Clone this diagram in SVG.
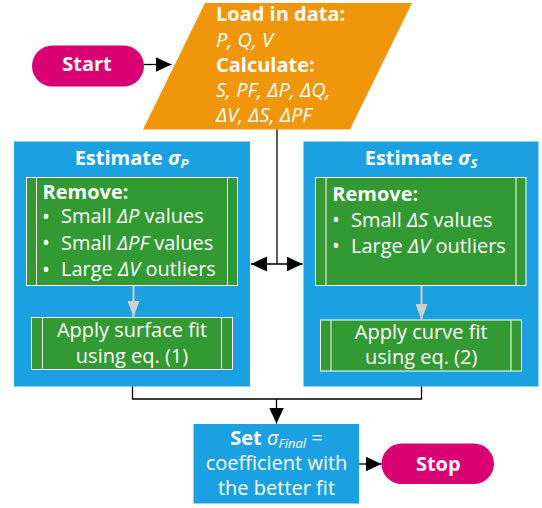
<svg xmlns="http://www.w3.org/2000/svg" width="542" height="508" viewBox="0 0 542 508">
<defs>
<style>
text{font-family:"Open Sans","Noto Sans","Liberation Sans",sans-serif;fill:#fff}
.t{font-size:20px}
.b{font-weight:bold}
.i{font-style:italic}
.m{text-anchor:middle}
.sub{font-size:13px;font-style:italic}
.bul{font-size:21px}
.pill{fill:#D80073}
.blue{fill:#1BA1E2}
.green{fill:#339933;stroke:#fff;stroke-width:1}
.gl{stroke:#fff;stroke-width:1}
.ln{fill:none;stroke:#000;stroke-width:1.3}
.gray{fill:none;stroke:#D0D0D0;stroke-width:2}
</style>
<marker id="ah" markerUnits="userSpaceOnUse" markerWidth="16" markerHeight="16" refX="16" refY="8" orient="auto-start-reverse" viewBox="0 0 16 16">
<path d="M0,0.5 L16,8 L0,15.5 z" fill="#000"/>
</marker>
<marker id="gh" markerUnits="userSpaceOnUse" markerWidth="12" markerHeight="16" refX="6" refY="16" orient="0" viewBox="0 0 12 16">
<path d="M0,0 L12,0 L6,16 z" fill="#D0D0D0"/>
</marker>
</defs>

<g id="start">
<rect class="pill" x="32" y="45.5" width="112" height="41" rx="20.5"/>
<text class="t b m" x="87" y="71">Start</text>
</g>

<g id="load">
<polygon points="205,3 412,3 350,129.5 143,129.5" fill="#F0960B"/>
<text x="216" y="20.7" class="t b">Load in data:</text>
<text x="216" y="46.5" class="t i">P, Q, V</text>
<text x="216" y="71.7" class="t b">Calculate:</text>
<text x="216" y="96.7" class="t i">S, PF, ΔP, ΔQ,</text>
<text x="216" y="121.7" class="t i">ΔV, ΔS, ΔPF</text>
</g>

<g id="estimateP">
<rect class="blue" x="14" y="141.5" width="236" height="245"/>
<text class="t b m" x="131.5" y="165">Estimate <tspan class="i">σ</tspan><tspan class="sub" dy="3">P</tspan></text>
<g id="removeP">
<rect class="green" x="26.5" y="177.5" width="211" height="108"/>
<line class="gl" x1="36.5" y1="177.5" x2="36.5" y2="285.5"/>
<line class="gl" x1="227.5" y1="177.5" x2="227.5" y2="285.5"/>
<text class="t b" x="42.5" y="199.3">Remove:</text>
<text class="bul" x="42" y="224">•</text><text class="t" x="61" y="223.3">Small <tspan class="i">ΔP</tspan> values</text>
<text class="bul" x="42" y="250.3">•</text><text class="t" x="61" y="249.6">Small <tspan class="i">ΔPF</tspan> values</text>
<text class="bul" x="42" y="276.7">•</text><text class="t" x="61" y="276">Large <tspan class="i">ΔV</tspan> outliers</text>
</g>
<g id="surfaceFit">
<rect class="green" x="31.5" y="317.5" width="201" height="52"/>
<line class="gl" x1="42.5" y1="317.5" x2="42.5" y2="369.5"/>
<line class="gl" x1="221.5" y1="317.5" x2="221.5" y2="369.5"/>
<text class="t m" x="132" y="337.3">Apply surface fit</text>
<text class="t m" x="132" y="362.7">using eq. (1)</text>
</g>
</g>

<g id="estimateS">
<rect class="blue" x="303.5" y="141.5" width="235" height="245"/>
<text class="t b m" x="421" y="165">Estimate <tspan class="i">σ</tspan><tspan class="sub" dy="3">S</tspan></text>
<g id="removeS">
<rect class="green" x="315.5" y="177.5" width="210.5" height="108"/>
<line class="gl" x1="326" y1="177.5" x2="326" y2="285.5"/>
<line class="gl" x1="516" y1="177.5" x2="516" y2="285.5"/>
<text class="t b" x="332.3" y="201">Remove:</text>
<text class="bul" x="332" y="227.2">•</text><text class="t" x="351" y="226.5">Small <tspan class="i">ΔS</tspan> values</text>
<text class="bul" x="332" y="253.2">•</text><text class="t" x="351" y="252.5">Large <tspan class="i">ΔV</tspan> outliers</text>
</g>
<g id="curveFit">
<rect class="green" x="320.5" y="320" width="201" height="51"/>
<line class="gl" x1="331" y1="320" x2="331" y2="371"/>
<line class="gl" x1="511" y1="320" x2="511" y2="371"/>
<text class="t m" x="421.2" y="339.3">Apply curve fit</text>
<text class="t m" x="421.2" y="364">using eq. (2)</text>
</g>
</g>

<g id="setFinal">
<rect class="blue" x="193.5" y="424" width="165.5" height="79.5"/>
<text class="t m" x="276.5" y="445"><tspan class="b">Set</tspan> <tspan class="i">σ</tspan><tspan class="sub" dy="3">Final</tspan><tspan dy="-3"> =</tspan></text>
<text class="t m" x="276.5" y="470">coefficient with</text>
<text class="t m" x="276.5" y="495">the better fit</text>
</g>

<g id="stop">
<rect class="pill" x="381.5" y="443.5" width="112.5" height="40.5" rx="20.25"/>
<text class="t b m" x="438.3" y="470.7">Stop</text>
</g>

<g id="connectors">
<line class="ln" x1="144" y1="64.5" x2="171.5" y2="64.5" marker-end="url(#ah)"/>
<line class="ln" x1="277" y1="129.5" x2="277" y2="264"/>
<line class="ln" x1="251" y1="264" x2="302.5" y2="264" marker-start="url(#ah)" marker-end="url(#ah)"/>
<line class="gray" x1="133.5" y1="286" x2="133.5" y2="317" marker-end="url(#gh)"/>
<line class="gray" x1="421.5" y1="286" x2="421.5" y2="320" marker-end="url(#gh)"/>
<path class="ln" d="M132.5,386.5 V399 H421.5 V386.5"/>
<line class="ln" x1="276.5" y1="399" x2="276.5" y2="423.5" marker-end="url(#ah)"/>
<line class="ln" x1="359" y1="464" x2="381.5" y2="464" marker-end="url(#ah)"/>
</g>
</svg>
